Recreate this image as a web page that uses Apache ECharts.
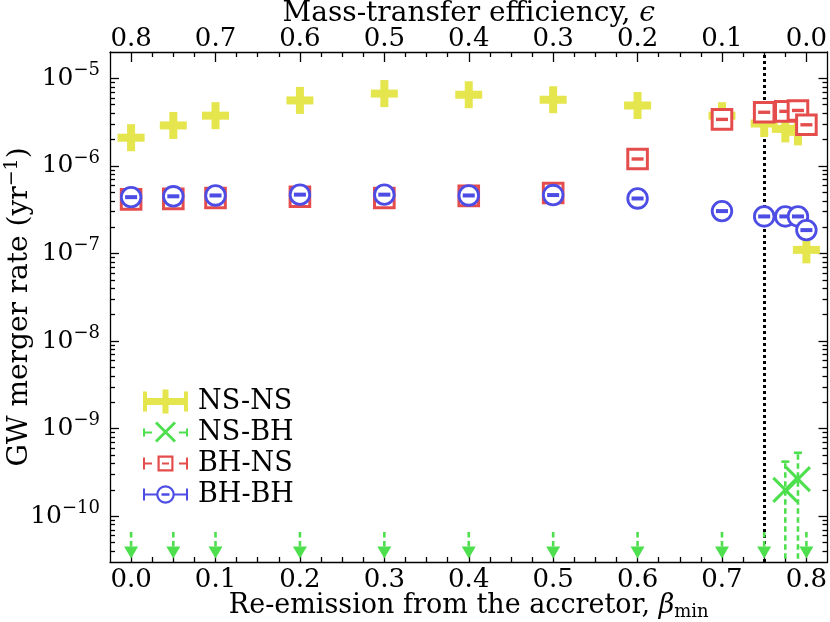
<!DOCTYPE html>
<html>
<head>
<meta charset="utf-8">
<script src="https://cdn.jsdelivr.net/npm/echarts@6/dist/echarts.min.js"></script>
<style>
  html, body { margin: 0; padding: 0; background: #fff; }
  #chart { width: 830px; height: 622px; }
</style>
</head>
<body>
<div id="chart"></div>
<script>
// 数据：β_min 位置和各类并合率
const beta = [0, 0.05, 0.1, 0.2, 0.3, 0.4, 0.5, 0.6, 0.7, 0.75, 0.775, 0.79, 0.8];
const nsns = [2.1e-6, 2.9e-6, 3.75e-6, 5.6e-6, 6.7e-6, 6.5e-6, 5.7e-6, 4.9e-6, 3.75e-6, 3.05e-6, 2.65e-6, 2.45e-6, 1.1e-7];
const bhns = [4.15e-7, 4.2e-7, 4.3e-7, 4.45e-7, 4.3e-7, 4.55e-7, 4.9e-7, 1.2e-6, 3.4e-6, 4.1e-6, 4.2e-6, 4.3e-6, 2.95e-6];
const bhbh = [4.4e-7, 4.5e-7, 4.6e-7, 4.7e-7, 4.7e-7, 4.6e-7, 4.65e-7, 4.25e-7, 3.05e-7, 2.65e-7, 2.65e-7, 2.65e-7, 1.85e-7];
// NS-BH：两个探测值（带误差棒）和其余的上限
const nsbhBeta = [0.775, 0.79];
const nsbhRate = [2.0e-10, 2.65e-10];
const nsbhHigh = [4.2e-10, 5.3e-10];
const nsbhLow = [1e-11, 1e-11];
const limBeta = [0, 0.05, 0.1, 0.2, 0.3, 0.4, 0.5, 0.6, 0.7, 0.75, 0.8];
const limRate = [3.9e-11, 3.9e-11, 3.9e-11, 3.9e-11, 3.9e-11, 3.9e-11, 3.9e-11, 3.9e-11, 3.9e-11, 3.9e-11, 3.9e-11];
const limTop = [6.6e-11, 6.6e-11, 6.6e-11, 6.6e-11, 6.6e-11, 6.6e-11, 6.6e-11, 6.6e-11, 6.6e-11, 6.6e-11, 6.6e-11];
// 刻度
const betaTicks = [0, 0.1, 0.2, 0.3, 0.4, 0.5, 0.6, 0.7, 0.8];
const epsTicks = [0.8, 0.7, 0.6, 0.5, 0.4, 0.3, 0.2, 0.1, 0.0];
const rateTicks = [1e-10, 1e-9, 1e-8, 1e-7, 1e-6, 1e-5];
const betaSplit = 0.75;

const FONT = 'DejaVu Serif';
const C_YEL = '#e5e54d', C_GRN = '#4ddf4d', C_RED = '#e54d4d', C_BLU = '#4d4de5';
const X_MIN = -0.025, X_MAX = 0.825, Y_MIN = 3e-11, Y_MAX = 2e-5;

const betaMinor = [];
for (let k = 1; k < 33; k++) if (k % 4) betaMinor.push(+(k * 0.025).toFixed(3));
const rateMinor = [];
for (let e = -11; e <= -6; e++) for (let m = 2; m <= 9; m++) {
  const v = m * Math.pow(10, e);
  if (v > Y_MIN && v < Y_MAX) rateMinor.push(v);
}

const lineBlack = { color: '#000', width: 1.3 };

function xAxis(pos, ticks, len, withLine, label) {
  return {
    type: 'value', position: pos, min: X_MIN, max: X_MAX, nameMoveOverlap: false,
    axisLine: { show: withLine, onZero: false, lineStyle: lineBlack },
    axisTick: { show: true, inside: true, length: len, customValues: ticks, lineStyle: lineBlack },
    axisLabel: label || { show: false },
    splitLine: { show: false }
  };
}
function yAxis(pos, ticks, len, withLine, label) {
  return {
    type: 'log', logBase: 10, position: pos, min: Y_MIN, max: Y_MAX, nameMoveOverlap: false,
    axisLine: { show: withLine, onZero: false, lineStyle: lineBlack },
    axisTick: { show: true, inside: true, length: len, customValues: ticks, lineStyle: lineBlack },
    axisLabel: label || { show: false },
    splitLine: { show: false }, minorTick: { show: false }
  };
}

const tickFont = { fontFamily: FONT, fontSize: 26, color: '#000' };
const nameFont = { fontFamily: FONT, fontSize: 27, color: '#000' };

const xBottom = xAxis('bottom', betaTicks, 10, true, Object.assign({
  customValues: betaTicks, margin: 5, formatter: v => v.toFixed(1)
}, tickFont));
xBottom.name = 'Re-emission from the accretor, {i|β}{sub|min}';
xBottom.nameLocation = 'middle';
xBottom.nameGap = 29;
xBottom.nameTextStyle = Object.assign({
  lineHeight: 30,
  rich: {
    i: { fontFamily: FONT, fontSize: 27, fontStyle: 'italic', color: '#000' },
    sub: { fontFamily: FONT, fontSize: 18, color: '#000', verticalAlign: 'bottom', lineHeight: 18 }
  }
}, nameFont);

const xTop = xAxis('top', epsTicks.map(e => 0.8 - e), 10, true, Object.assign({
  customValues: epsTicks.map(e => 0.8 - e), margin: 0, formatter: v => Math.abs(0.8 - v).toFixed(1)
}, tickFont));
xTop.name = 'Mass-transfer efficiency, {i|ϵ}';
xTop.nameLocation = 'middle';
xTop.nameGap = 23;
xTop.nameTextStyle = Object.assign({
  lineHeight: 30,
  rich: { i: { fontFamily: FONT, fontSize: 28, fontStyle: 'italic', color: '#000' } }
}, nameFont, { fontSize: 28 });

const yLeft = yAxis('left', rateTicks, 9, true, {
  customValues: rateTicks, margin: 10,
  formatter: v => '{b|10}{s|−' + Math.round(-Math.log10(v)) + '}',
  rich: {
    b: { fontFamily: FONT, fontSize: 25, color: '#000', lineHeight: 34 },
    s: { fontFamily: FONT, fontSize: 18, color: '#000', verticalAlign: 'top', lineHeight: 18 }
  }
});
yLeft.name = 'GW merger rate (yr{s|−1})';
yLeft.nameLocation = 'middle';
yLeft.nameGap = 73;
yLeft.nameTextStyle = Object.assign({
  lineHeight: 34,
  rich: { s: { fontFamily: FONT, fontSize: 19, color: '#000', verticalAlign: 'top', lineHeight: 19 } }
}, nameFont, { fontSize: 28 });

// 自定义标记
function renderPlus(params, api) {
  const p = api.coord([api.value(0), api.value(1)]);
  const c = api.visual('color');
  const s = 27, t = 8;
  return { type: 'group', children: [
    { type: 'rect', shape: { x: p[0] - s / 2, y: p[1] - t / 2, width: s, height: t }, style: { fill: c } },
    { type: 'rect', shape: { x: p[0] - t / 2, y: p[1] - s / 2, width: t, height: s }, style: { fill: c } }
  ] };
}
function renderSquare(params, api) {
  const p = api.coord([api.value(0), api.value(1)]);
  const c = api.visual('color');
  return { type: 'group', children: [
    { type: 'rect', shape: { x: p[0] - 9.8, y: p[1] - 9.8, width: 19.6, height: 19.6 }, style: { fill: '#fff', stroke: c, lineWidth: 3 } },
    { type: 'rect', shape: { x: p[0] - 6, y: p[1] - 1.7, width: 12, height: 3.4 }, style: { fill: c } }
  ] };
}
function renderCircle(params, api) {
  const p = api.coord([api.value(0), api.value(1)]);
  const c = api.visual('color');
  return { type: 'group', children: [
    { type: 'circle', shape: { cx: p[0], cy: p[1], r: 9.8 }, style: { fill: '#fff', stroke: c, lineWidth: 2.8 } },
    { type: 'rect', shape: { x: p[0] - 6, y: p[1] - 2, width: 12, height: 4 }, style: { fill: c } }
  ] };
}
function renderDetect(params, api) {
  const p = api.coord([api.value(0), api.value(1)]);
  const lo = api.coord([api.value(0), api.value(2)]);
  const hi = api.coord([api.value(0), api.value(3)]);
  const c = api.visual('color');
  const d = 12;
  const ls = { stroke: c, lineWidth: 2.6 };
  return { type: 'group', children: [
    { type: 'line', shape: { x1: lo[0], y1: lo[1], x2: hi[0], y2: hi[1] }, style: Object.assign({ lineDash: [5.5, 3.5] }, ls) },
    { type: 'line', shape: { x1: hi[0] - 4, y1: hi[1], x2: hi[0] + 4, y2: hi[1] }, style: ls },
    { type: 'line', shape: { x1: p[0] - d, y1: p[1] - d, x2: p[0] + d, y2: p[1] + d }, style: { stroke: c, lineWidth: 3 } },
    { type: 'line', shape: { x1: p[0] - d, y1: p[1] + d, x2: p[0] + d, y2: p[1] - d }, style: { stroke: c, lineWidth: 3 } }
  ] };
}
function renderLimit(params, api) {
  const p = api.coord([api.value(0), api.value(1)]);
  const top = api.coord([api.value(0), api.value(2)]);
  const c = api.visual('color');
  return { type: 'group', children: [
    { type: 'line', shape: { x1: top[0], y1: top[1], x2: p[0], y2: p[1] - 4 }, style: { stroke: c, lineWidth: 2.6, lineDash: [5.5, 3.5] } },
    { type: 'polygon', shape: { points: [[p[0] - 7, p[1] - 5.5], [p[0] + 7, p[1] - 5.5], [p[0], p[1] + 6.5]] }, style: { fill: c } }
  ] };
}

// 图例图标（45x24）
const bbox = 'M0,0h0.01v0.01h-0.01Z M44.99,23.99h0.01v0.01h-0.01Z ';
const iconNSNS = 'path://M0,2H4V8.5H19.5V0H25.5V8.5H41V2H45V22H41V15.5H25.5V24H19.5V15.5H4V22H0Z';
const iconNSBH = 'path://' + bbox + 'M0,8H2V16H0Z M2,11H9V13H2Z M12,3L14,1L33,20L31,22Z M31,1L33,3L14,22L12,20Z M36,11H43V13H36Z M43,8H45V16H43Z';
const iconBHNS = 'path://' + bbox + 'M0,6H2V18H0Z M2,11H9V13H2Z M14.5,4H30.5V20H14.5Z M16.7,6.2V17.8H28.3V6.2Z M19,11H26V13H19Z M36,11H43V13H36Z M43,6H45V18H43Z';
const iconBHBH = 'path://' + bbox + 'M0,6H2V18H0Z M2,11H13.5V13H2Z M13.2,12A9.3,9.3,0,1,1,31.8,12A9.3,9.3,0,1,1,13.2,12Z M15.4,12A7.1,7.1,0,1,0,29.6,12A7.1,7.1,0,1,0,15.4,12Z M18.5,10.8H26.5V13.2H18.5Z M31.5,11H43V13H31.5Z M43,6H45V18H43Z';

const chart = echarts.init(document.getElementById('chart'));
chart.setOption({
  animation: false,
  backgroundColor: '#fff',
  grid: { left: 110, right: 2.5, top: 52, bottom: 60, outerBoundsMode: 'none', containLabel: false },
  xAxis: [
    xBottom,
    xAxis('bottom', betaMinor, 5, false),
    xTop,
    xAxis('top', betaMinor, 5, false)
  ],
  yAxis: [
    yLeft,
    yAxis('left', rateMinor, 5, false),
    yAxis('right', rateTicks, 9, true),
    yAxis('right', rateMinor, 5, false)
  ],
  legend: {
    orient: 'vertical', left: 143, top: 388, padding: 0,
    itemWidth: 45, itemHeight: 24, itemGap: 4,
    itemStyle: { borderWidth: 0 },
    textStyle: { fontFamily: FONT, fontSize: 27, color: '#000', padding: [0, 0, 0, 5] },
    data: [
      { name: 'NS-NS', icon: iconNSNS },
      { name: 'NS-BH', icon: iconNSBH },
      { name: 'BH-NS', icon: iconBHNS },
      { name: 'BH-BH', icon: iconBHBH }
    ]
  },
  series: [
    {
      name: 'NS-NS', type: 'custom', renderItem: renderPlus, z: 3,
      itemStyle: { color: C_YEL },
      data: beta.map((b, i) => [b, nsns[i]]),
      markLine: {
        silent: true, symbol: 'none', z: 1, animation: false,
        label: { show: false },
        lineStyle: { color: '#000', width: 3, type: [3, 3] },
        data: [{ xAxis: betaSplit }]
      }
    },
    {
      name: 'NS-BH', type: 'custom', renderItem: renderDetect, z: 3, clip: true,
      itemStyle: { color: C_GRN },
      data: nsbhBeta.map((b, i) => [b, nsbhRate[i], nsbhLow[i], nsbhHigh[i]])
    },
    {
      name: 'NS-BH', type: 'custom', renderItem: renderLimit, z: 3, clip: true,
      itemStyle: { color: C_GRN },
      data: limBeta.map((b, i) => [b, limRate[i], limTop[i]])
    },
    {
      name: 'BH-NS', type: 'custom', renderItem: renderSquare, z: 3,
      itemStyle: { color: C_RED },
      data: beta.map((b, i) => [b, bhns[i]])
    },
    {
      name: 'BH-BH', type: 'custom', renderItem: renderCircle, z: 3,
      itemStyle: { color: C_BLU },
      data: beta.map((b, i) => [b, bhbh[i]])
    }
  ]
});
</script>
</body>
</html>
